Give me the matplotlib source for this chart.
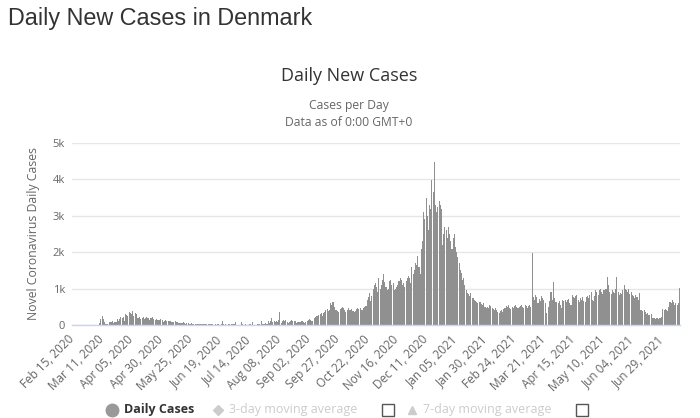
import numpy as np
import pandas as pd
import matplotlib
matplotlib.use("Agg")
import matplotlib.pyplot as plt
from matplotlib.lines import Line2D
from matplotlib.patches import Rectangle

# daily new cases
feb2020 = [0, 0, 0, 0, 0, 0, 0, 0, 0, 0, 0, 0, 1, 0, 0]
mar2020 = [1, 1, 2, 5, 10, 3, 8, 5, 55, 170, 250, 160, 70, 37, 37, 34, 79, 70, 85, 112,
           60, 80, 75, 170, 120, 160, 210, 180, 230, 110, 300]
apr2020 = [280, 250, 370, 330, 300, 390, 240, 330, 300, 200, 180, 210, 170, 180, 220,
           160, 200, 230, 180, 140, 190, 200, 220, 170, 140, 160, 130, 150, 150, 170]
may2020 = [140, 90, 100, 130, 110, 120, 110, 100, 70, 80, 75, 100, 95, 85, 60, 50, 45,
           60, 70, 55, 40, 50, 45, 30, 40, 45, 40, 30, 35, 25, 20]
jun2020 = [30, 25, 40, 20, 25, 15, 20, 30, 40, 25, 30, 20, 15, 10, 18, 12, 20, 25, 12,
           30, 110, 18, 12, 20, 10, 15, 20, 12, 20, 15]
jul2020 = [15, 70, 8, 10, 6, 9, 80, 15, 10, 12, 20, 8, 6, 30, 15, 10, 90, 12, 10, 5, 20,
           15, 35, 100, 20, 15, 20, 60, 40, 110, 60]
aug2020 = [120, 190, 90, 100, 80, 110, 95, 140, 360, 60, 100, 130, 120, 130, 80, 60, 70,
           110, 130, 120, 110, 100, 60, 70, 85, 90, 100, 110, 80, 60, 70]
sep2020 = [100, 130, 160, 140, 120, 100, 200, 230, 250, 240, 280, 300, 330, 260, 330, 360,
           400, 450, 380, 420, 600, 560, 630, 500, 400, 420, 380, 360, 440, 470]
oct2020 = [500, 480, 420, 350, 400, 460, 420, 400, 440, 380, 360, 380, 450, 470, 440, 480,
           420, 400, 460, 500, 520, 690, 760, 870, 650, 800, 1000, 1100, 1150, 1050, 900]
nov2020 = [1300, 980, 1100, 1250, 1400, 1180, 1050, 950, 1000, 1200, 1250, 1100, 1150, 960,
           1000, 1050, 1100, 1200, 1300, 1250, 1100, 1150, 1050, 1200, 1300, 1350, 1280,
           1150, 1600, 1400]
dec2020 = [1500, 1700, 1650, 1900, 1600, 1400, 2100, 2300, 3100, 2900, 3500, 3000, 2600,
           3300, 3200, 3980, 3650, 4480, 3300, 3100, 3250, 3400, 3300, 3200, 2200, 2500,
           2700, 2600, 2400, 2700, 2500]
jan2021 = [2300, 2100, 2400, 2500, 2140, 2000, 1870, 1700, 1500, 1430, 1240, 1300, 1100,
           950, 880, 850, 800, 870, 750, 740, 700, 650, 620, 600, 640, 630, 580, 560, 600,
           500, 480]
feb2021 = [500, 470, 550, 520, 480, 450, 420, 480, 400, 350, 330, 380, 400, 360, 450, 480,
           520, 500, 550, 470, 450, 500, 480, 520, 540, 500, 460, 490]
mar2021 = [520, 540, 500, 480, 550, 530, 460, 510, 540, 500, 1980, 760, 700, 820, 780, 600,
           720, 650, 800, 740, 690, 600, 330, 0, 500, 650, 900, 700, 1180, 750, 630]
apr2021 = [630, 600, 650, 560, 480, 700, 650, 690, 620, 700, 720, 600, 550, 820, 780, 750,
           800, 820, 700, 640, 740, 700, 760, 650, 620, 770, 800, 740, 820, 900]
may2021 = [700, 650, 800, 960, 900, 820, 960, 1000, 900, 850, 950, 1000, 980, 1320, 1100,
           900, 850, 950, 900, 880, 1000, 1320, 900, 830, 880, 850, 950, 1100, 1000, 950, 900]
jun2021 = [980, 850, 900, 820, 800, 750, 820, 780, 700, 870, 420, 400, 380, 410, 350, 300,
           330, 270, 280, 300, 200, 180, 190, 170, 200, 160, 190, 180, 210, 440]
jul2021 = [400, 450, 420, 380, 500, 630, 600, 680, 640, 560, 600, 540, 600, 1010]

cases = (feb2020 + mar2020 + apr2020 + may2020 + jun2020 + jul2020 + aug2020 + sep2020
         + oct2020 + nov2020 + dec2020 + jan2021 + feb2021 + mar2021 + apr2021 + may2021
         + jun2021 + jul2021)
dates = pd.date_range("2020-02-15", periods=len(cases), freq="D")

y_ticks = [0, 1000, 2000, 3000, 4000, 5000]
y_labels = ["0", "1k", "2k", "3k", "4k", "5k"]

FONT = "Open Sans"
W, H = 700, 418

fig = plt.figure(figsize=(7, 4.18), dpi=100)
fig.patch.set_facecolor("white")
ax = fig.add_axes([72 / W, (H - 325) / H, 608 / W, 182 / H])

x = np.arange(len(cases))
ax.bar(x, cases, width=0.9, color="#909090", linewidth=0)

ax.set_xlim(-0.5, len(cases) - 0.5)
ax.set_ylim(0, 5000)
ax.set_yticks(y_ticks)
ax.set_yticklabels(y_labels, family=FONT, fontsize=8, color="#666666")
ax.yaxis.grid(True, color="#e6e6e6", linewidth=1)
ax.set_axisbelow(True)

tick_idx = x[::25]
ax.set_xticks(tick_idx)
ax.set_xticklabels([dates[i].strftime("%b %d, %Y") for i in tick_idx],
                   family=FONT, fontsize=8.5, color="#666666")
plt.setp(ax.get_xticklabels(), rotation=45, ha="right", va="center",
         rotation_mode="anchor")
ax.tick_params(axis="x", length=0, pad=9)
ax.tick_params(axis="y", length=0, pad=5)

for s in ["top", "right", "left"]:
    ax.spines[s].set_visible(False)
ax.spines["bottom"].set_color("#ccd6eb")
ax.spines["bottom"].set_linewidth(1)

ax.set_ylabel("Novel Coronavirus Daily Cases", family=FONT, fontsize=8.8,
              color="#666666", labelpad=9)


def px(xp, yp):
    return xp / W, 1 - yp / H


# titles
fig.text(*px(8, 18), "Daily New Cases in Denmark", family="Liberation Sans",
         fontsize=16.8, color="#333333", va="center", ha="left")
fig.text(*px(349, 76), "Daily New Cases", family=FONT, fontsize=13,
         color="#333333", va="center", ha="center")
fig.text(*px(349, 106), "Cases per Day", family=FONT, fontsize=8.7,
         color="#666666", va="center", ha="center")
fig.text(*px(349, 122), "Data as of 0:00 GMT+0", family=FONT, fontsize=8.7,
         color="#666666", va="center", ha="center")

# legend along the bottom edge
ly = 410
fig.add_artist(Line2D([112 / W], [1 - ly / H], marker="o", markersize=9,
                      color="#999999", transform=fig.transFigure))
fig.text(*px(124, ly), "Daily Cases", family=FONT, fontsize=9, weight="bold",
         color="#333333", va="center", ha="left")
fig.add_artist(Line2D([218 / W], [1 - ly / H], marker="D", markersize=5,
                      color="#cccccc", transform=fig.transFigure))
fig.text(*px(229, ly), "3-day moving average", family=FONT, fontsize=9,
         color="#cccccc", va="center", ha="left")
fig.add_artist(Line2D([412 / W], [1 - ly / H], marker="^", markersize=6,
                      color="#cccccc", transform=fig.transFigure))
fig.text(*px(423, ly), "7-day moving average", family=FONT, fontsize=9,
         color="#cccccc", va="center", ha="left")
for cx in [388, 582]:
    fig.add_artist(Rectangle(((cx - 6) / W, 1 - (ly + 6) / H), 12 / W, 12 / H,
                             transform=fig.transFigure, facecolor="white",
                             edgecolor="#555555", linewidth=1))

fig.savefig("out.png", dpi=100, facecolor="white")
